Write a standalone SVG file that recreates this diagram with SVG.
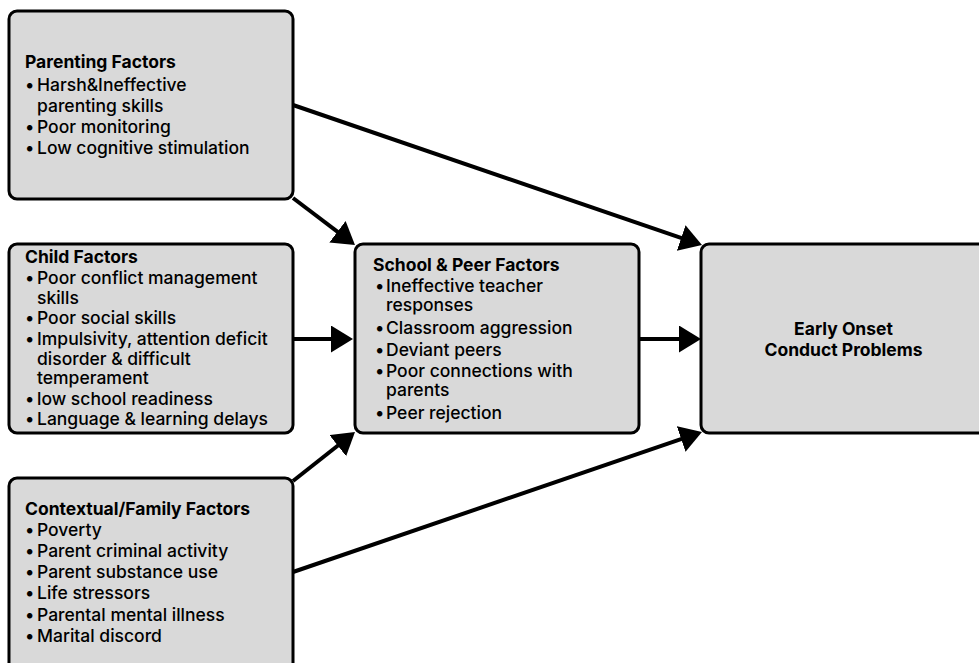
<svg xmlns="http://www.w3.org/2000/svg" width="979" height="663" viewBox="0 0 979 663">
<style>
.box{fill:#d9d9d9;stroke:#000;stroke-width:3}
.t{font-family:Inter,"Noto Sans",sans-serif;font-size:17.5px;fill:#000;font-weight:500}
.h{font-weight:700}
.c{stroke:#000;stroke-width:4;fill:none}
</style>
<defs>
<marker id="ah" markerUnits="userSpaceOnUse" markerWidth="24" markerHeight="28" refX="16" refY="13.5" orient="auto">
<path d="M0,0 L22,13.5 L0,27 z" fill="#000"/>
</marker>
</defs>
<rect width="979" height="663" fill="#fff"/>
<g id="connectors">
<line class="c" x1="293" y1="105" x2="696.3" y2="243.1" marker-end="url(#ah)"/>
<line class="c" x1="293" y1="198" x2="350.2" y2="241.4" marker-end="url(#ah)"/>
<line class="c" x1="293" y1="339" x2="347" y2="339" marker-end="url(#ah)"/>
<line class="c" x1="639" y1="339" x2="695" y2="339" marker-end="url(#ah)"/>
<line class="c" x1="293" y1="481" x2="350.3" y2="435.7" marker-end="url(#ah)"/>
<line class="c" x1="293" y1="572" x2="696.3" y2="433.9" marker-end="url(#ah)"/>
</g>
<g id="parenting">
<rect class="box" x="9" y="11" width="284" height="188" rx="8"/>
<text class="t h" x="25" y="68">Parenting Factors</text>
<text class="t"><tspan x="25" y="91">•</tspan><tspan x="37" y="91">Harsh&amp;Ineffective</tspan><tspan x="37" y="112">parenting skills</tspan><tspan x="25" y="133">•</tspan><tspan x="37" y="133">Poor monitoring</tspan><tspan x="25" y="154">•</tspan><tspan x="37" y="154">Low cognitive stimulation</tspan></text>
</g>
<g id="child">
<rect class="box" x="9" y="244" width="284" height="189" rx="8"/>
<text class="t h" x="25" y="263">Child Factors</text>
<text class="t"><tspan x="25" y="284">•</tspan><tspan x="37" y="284">Poor conflict management</tspan><tspan x="37" y="304">skills</tspan><tspan x="25" y="324">•</tspan><tspan x="37" y="324">Poor social skills</tspan><tspan x="25" y="345">•</tspan><tspan x="37" y="345">Impulsivity, attention deficit</tspan><tspan x="37" y="365">disorder &amp; difficult</tspan><tspan x="37" y="384">temperament</tspan><tspan x="25" y="405">•</tspan><tspan x="37" y="405">low school readiness</tspan><tspan x="25" y="425">•</tspan><tspan x="37" y="425">Language &amp; learning delays</tspan></text>
</g>
<g id="contextual">
<rect class="box" x="9" y="478" width="284" height="200" rx="8"/>
<text class="t h" x="25" y="515">Contextual/Family Factors</text>
<text class="t"><tspan x="25" y="536">•</tspan><tspan x="37" y="536">Poverty</tspan><tspan x="25" y="557">•</tspan><tspan x="37" y="557">Parent criminal activity</tspan><tspan x="25" y="578">•</tspan><tspan x="37" y="578">Parent substance use</tspan><tspan x="25" y="599">•</tspan><tspan x="37" y="599">Life stressors</tspan><tspan x="25" y="621">•</tspan><tspan x="37" y="621">Parental mental illness</tspan><tspan x="25" y="642">•</tspan><tspan x="37" y="642">Marital discord</tspan></text>
</g>
<g id="school">
<rect class="box" x="355" y="244" width="284" height="189" rx="8"/>
<text class="t h" x="373" y="271">School &amp; Peer Factors</text>
<text class="t"><tspan x="375" y="292">•</tspan><tspan x="386" y="292">Ineffective teacher</tspan><tspan x="386" y="311">responses</tspan><tspan x="375" y="334">•</tspan><tspan x="386" y="334">Classroom aggression</tspan><tspan x="375" y="356">•</tspan><tspan x="386" y="356">Deviant peers</tspan><tspan x="375" y="377">•</tspan><tspan x="386" y="377">Poor connections with</tspan><tspan x="386" y="396">parents</tspan><tspan x="375" y="419">•</tspan><tspan x="386" y="419">Peer rejection</tspan></text>
</g>
<g id="early">
<rect class="box" x="701" y="244" width="300" height="189" rx="8"/>
<text class="t h" text-anchor="middle"><tspan x="843.5" y="335">Early Onset</tspan><tspan x="843.5" y="356">Conduct Problems</tspan></text>
</g>
</svg>
